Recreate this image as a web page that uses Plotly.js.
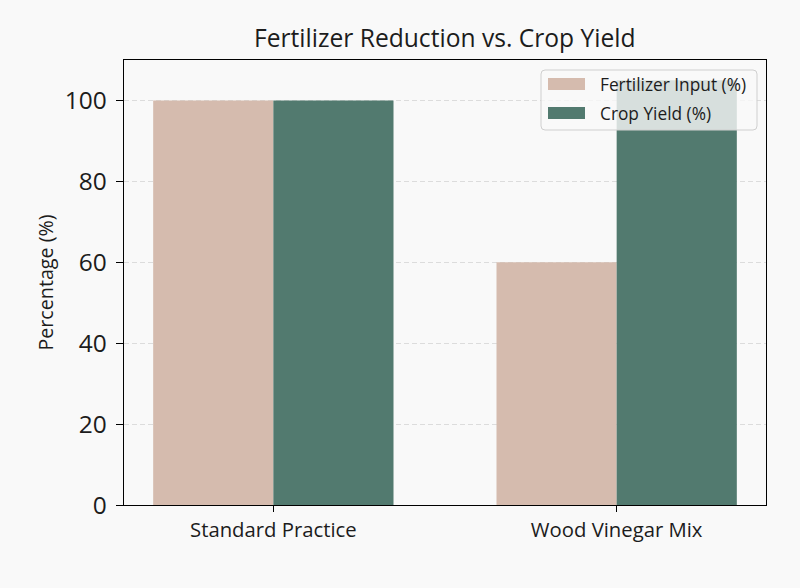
<!DOCTYPE html>
<html>
<head>
<meta charset="utf-8">
<script src="https://cdn.plot.ly/plotly-3.0.1.min.js"></script>
<style>
  html, body { margin: 0; padding: 0; background: #f9f9f9; }
  #chart { width: 800px; height: 588px; }
</style>
</head>
<body>
<div id="chart"></div>
<script>
// Practice categories and the two measured series
const practices = ["Standard Practice", "Wood Vinegar Mix"];
const fertilizerInput = [100, 60];
const cropYield = [100, 105];
const yTicks = [0, 20, 40, 60, 80, 100];

const seriesNames = ["Fertilizer Input (%)", "Crop Yield (%)"];
const seriesColors = ["#d5bbae", "#527a6f"];

const fontFamily = "'Open Sans', sans-serif";
const textColor = "#1c1c1c";

const traces = [
  {
    type: "bar",
    name: seriesNames[0],
    x: practices,
    y: fertilizerInput,
    marker: { color: seriesColors[0] },
    hoverinfo: "skip"
  },
  {
    type: "bar",
    name: seriesNames[1],
    x: practices,
    y: cropYield,
    marker: { color: seriesColors[1] },
    hoverinfo: "skip"
  }
];

// Legend drawn as a rounded translucent box with wide swatches (paper coords)
const W = 800, H = 588;
const M = { l: 124, r: 34, t: 60, b: 83 };
const pw = W - M.l - M.r, ph = H - M.t - M.b;
const px = x => (x - M.l) / pw;          // pixel x -> paper x
const py = y => (H - M.b - y) / ph;      // pixel y -> paper y

function roundedRect(x0, y0, x1, y1, r) {
  const rx = r / pw, ry = r / ph;
  const a = px(x0), b = px(x1), top = py(y0), bot = py(y1);
  return `M${a + rx},${top} L${b - rx},${top} Q${b},${top} ${b},${top - ry} ` +
         `L${b},${bot + ry} Q${b},${bot} ${b - rx},${bot} ` +
         `L${a + rx},${bot} Q${a},${bot} ${a},${bot + ry} ` +
         `L${a},${top - ry} Q${a},${top} ${a + rx},${top} Z`;
}

const legendBox = { x0: 541, y0: 70, x1: 757, y1: 130 };
const legendRows = [84, 113];

const shapes = [
  {
    type: "path", xref: "paper", yref: "paper", layer: "above",
    path: roundedRect(legendBox.x0, legendBox.y0, legendBox.x1, legendBox.y1, 4),
    fillcolor: "rgba(249,249,249,0.8)",
    line: { color: "#cfcfcf", width: 1 }
  }
];
const annotations = [];
seriesNames.forEach((name, i) => {
  const cy = legendRows[i];
  shapes.push({
    type: "rect", xref: "paper", yref: "paper", layer: "above",
    x0: px(548), x1: px(585), y0: py(cy - 6), y1: py(cy + 6),
    fillcolor: seriesColors[i], line: { width: 0 }
  });
  annotations.push({
    xref: "paper", yref: "paper", x: px(598), y: py(cy),
    xanchor: "left", yanchor: "middle", showarrow: false,
    text: name, font: { size: 17.3, family: fontFamily, color: textColor }
  });
});

const layout = {
  width: W,
  height: H,
  paper_bgcolor: "#f9f9f9",
  plot_bgcolor: "#f9f9f9",
  margin: M,
  font: { family: fontFamily, color: textColor },
  title: {
    text: "Fertilizer Reduction vs. Crop Yield",
    font: { size: 24.6, family: fontFamily, color: textColor },
    x: 0.556, xanchor: "center",
    y: 0.935, yanchor: "middle"
  },
  barmode: "group",
  bargap: 0.3,
  bargroupgap: 0,
  showlegend: false,
  shapes: shapes,
  annotations: annotations,
  xaxis: {
    type: "category",
    range: [-0.435, 1.435],
    showline: true,
    linecolor: "#000",
    linewidth: 1.3,
    mirror: true,
    ticks: "outside",
    ticklen: 6,
    tickcolor: "#000",
    showgrid: false,
    tickfont: { size: 20.3, family: fontFamily, color: textColor }
  },
  yaxis: {
    range: [0, 110],
    tickvals: yTicks,
    showline: true,
    linecolor: "#000",
    linewidth: 1.3,
    mirror: true,
    ticks: "outside",
    ticklen: 7,
    tickcolor: "#000",
    ticklabelstandoff: 4,
    showgrid: true,
    gridcolor: "#dcdcdc",
    griddash: "5px,3px",
    gridwidth: 1,
    zeroline: false,
    tickfont: { size: 24.5, family: fontFamily, color: textColor },
    title: {
      text: "Percentage (%)",
      font: { size: 19.7, family: fontFamily, color: textColor },
      standoff: 6
    }
  }
};

Plotly.newPlot("chart", traces, layout, { staticPlot: true, displayModeBar: false });
</script>
</body>
</html>
